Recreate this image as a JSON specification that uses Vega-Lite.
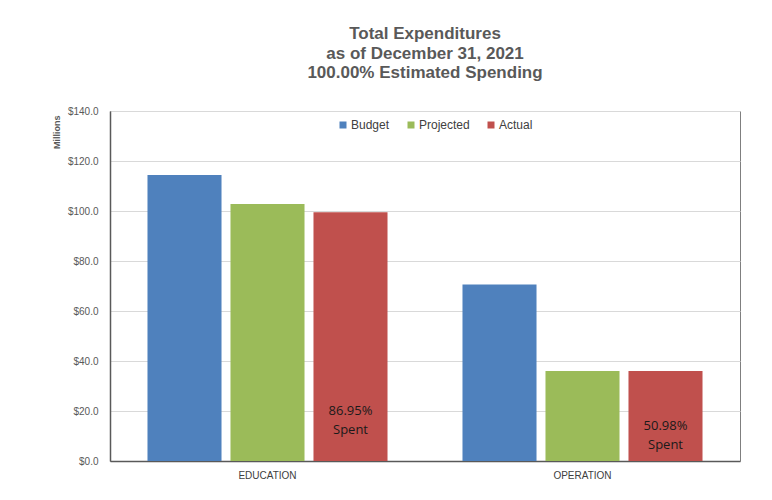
{
  "$schema": "https://vega.github.io/schema/vega-lite/v6.json",
  "width": 630,
  "height": 350,
  "autosize": {"type": "none"},
  "padding": {"left": 110, "top": 111, "right": 32, "bottom": 39},
  "background": "white",
  "title": {
    "text": ["Total Expenditures", "as of December 31, 2021", "100.00% Estimated Spending"],
    "fontSize": 17,
    "fontWeight": "bold",
    "font": "Liberation Sans",
    "color": "#595959",
    "lineHeight": 19.5,
    "anchor": "middle",
    "offset": 24
  },
  "data": {
    "values": [
      {"category": "EDUCATION", "series": "Budget", "value": 114.4, "label": ""},
      {"category": "EDUCATION", "series": "Projected", "value": 102.8, "label": ""},
      {"category": "EDUCATION", "series": "Actual", "value": 99.5, "label": "86.95%\nSpent"},
      {"category": "OPERATION", "series": "Budget", "value": 70.6, "label": ""},
      {"category": "OPERATION", "series": "Projected", "value": 36.0, "label": ""},
      {"category": "OPERATION", "series": "Actual", "value": 36.0, "label": "50.98%\nSpent"}
    ]
  },
  "encoding": {
    "x": {
      "field": "category",
      "type": "nominal",
      "sort": ["EDUCATION", "OPERATION"],
      "scale": {"paddingInner": 0.238, "paddingOuter": 0.119},
      "axis": {
        "title": null,
        "labelAngle": 0,
        "ticks": false,
        "labelPadding": 9,
        "labelFontSize": 10,
        "labelColor": "#404040",
        "labelFont": "Liberation Sans",
        "domainColor": "#595959",
        "domainWidth": 1.5
      }
    },
    "xOffset": {
      "field": "series",
      "type": "nominal",
      "sort": ["Budget", "Projected", "Actual"],
      "scale": {"paddingInner": 0.108, "paddingOuter": 0}
    }
  },
  "layer": [
    {
      "mark": {"type": "bar"},
      "encoding": {
        "y": {
          "field": "value",
          "type": "quantitative",
          "scale": {"domain": [0, 140], "nice": false},
          "axis": {
            "values": [0, 20, 40, 60, 80, 100, 120, 140],
            "format": "$.1f",
            "ticks": false,
            "labelPadding": 12,
            "labelFontSize": 10,
            "labelColor": "#595959",
            "labelFont": "Liberation Sans",
            "domainColor": "#595959",
            "domainWidth": 1.5,
            "gridColor": "#d9d9d9",
            "title": "Millions",
            "titleFont": "Liberation Sans",
            "titleFontSize": 9,
            "titleFontWeight": "bold",
            "titleColor": "#595959",
            "titleX": -49,
            "titleY": 4,
            "titleAngle": -90,
            "titleAlign": "right",
            "titleBaseline": "bottom"
          }
        },
        "color": {
          "field": "series",
          "type": "nominal",
          "sort": ["Budget", "Projected", "Actual"],
          "scale": {"domain": ["Budget", "Projected", "Actual"], "range": ["#4f81bd", "#9bbb59", "#c0504d"]},
          "legend": {
            "title": null,
            "orient": "none",
            "legendX": 227,
            "legendY": 8,
            "direction": "horizontal",
            "symbolType": "square",
            "symbolSize": 49,
            "symbolStrokeWidth": 0,
            "labelFontSize": 12,
            "labelFont": "Liberation Sans",
            "labelColor": "#404040",
            "labelOffset": 2,
            "columnPadding": 15
          }
        }
      }
    },
    {
      "transform": [{"filter": "datum.category == 'EDUCATION' && datum.series == 'Actual'"}],
      "mark": {"type": "text", "font": "Open Sans", "fontSize": 13, "color": "#1a1a1a", "lineBreak": "\n", "lineHeight": 19, "baseline": "middle", "dy": -50},
      "encoding": {
        "y": {"datum": 0, "type": "quantitative"},
        "text": {"field": "label"}
      }
    },
    {
      "transform": [{"filter": "datum.category == 'OPERATION' && datum.series == 'Actual'"}],
      "mark": {"type": "text", "font": "Open Sans", "fontSize": 13, "color": "#1a1a1a", "lineBreak": "\n", "lineHeight": 19, "baseline": "middle", "dy": -35},
      "encoding": {
        "y": {"datum": 0, "type": "quantitative"},
        "text": {"field": "label"}
      }
    }
  ],
  "config": {
    "view": {"stroke": "#7f7f7f", "strokeWidth": 1}
  }
}
